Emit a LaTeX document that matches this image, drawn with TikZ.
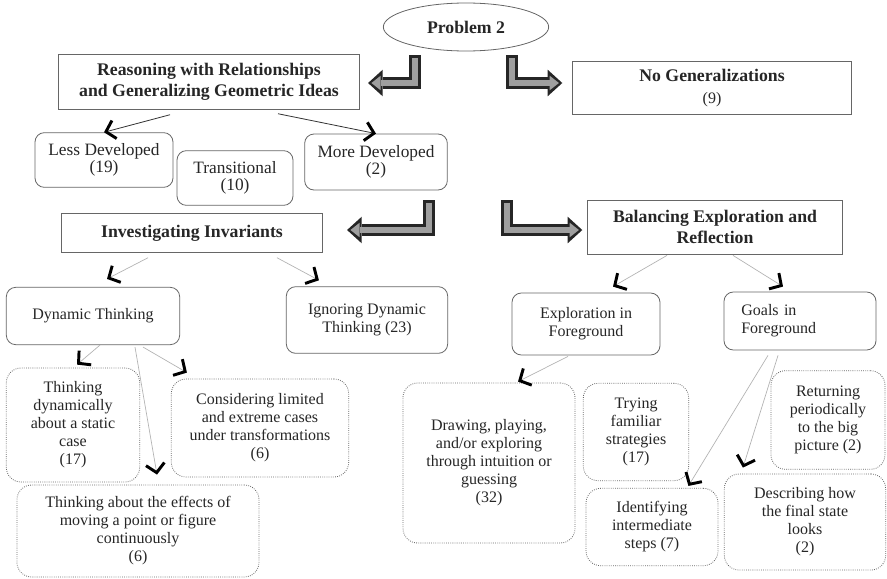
\documentclass[tikz,border=0pt]{standalone}
\usepackage{fontspec}
\setmainfont{Liberation Serif}
\usetikzlibrary{positioning}
\usetikzlibrary{arrows.meta}
\usetikzlibrary{shapes.geometric}
\usetikzlibrary{calc}

\begin{document}
\begin{tikzpicture}
  [x=0.75pt,y=-0.75pt,
   every node/.style={draw=gray!80!black,line width=0.6pt,align=center,text=black!85,
     inner sep=1pt,font=\fontsize{12}{13.5}\selectfont},
   headbox/.style={rectangle,font=\fontsize{13.3}{16}\selectfont\bfseries},
   cat/.style={rounded corners=7pt},
   sub/.style={rounded corners=11pt,densely dotted},
   connect/.style={draw=black!80,semithick,
     -{Straight Barb[length=6.5pt,width=14pt,line width=2.2pt,color=black]}},
   faint/.style={connect,draw=gray!60,line width=0.5pt},
   hollow/.style={draw=black!85,line width=9pt,line join=miter,
     -{Triangle[length=11pt,width=20pt,line width=0pt]},
     postaction={draw=gray!75,line width=4.5pt,shorten <=2pt,shorten >=2.5pt,
       -{Triangle[length=7pt,width=11pt,line width=0pt]}}}]
  \path[use as bounding box,fill=white] (0,0) rectangle (887,578);

  % top
  \node (prob) [ellipse,font=\fontsize{13.3}{16}\selectfont\bfseries,
    minimum width=124pt,minimum height=36pt] at (466,27) {Problem 2};
  \node (reason) [headbox,minimum width=226pt,minimum height=41pt] at (209,82)
    {Reasoning with Relationships\\and Generalizing Geometric Ideas};
  \node (nogen) [headbox,minimum width=209pt,minimum height=40pt] at (712,88)
    {No Generalizations\\{\mdseries\fontsize{12}{13.5}\selectfont (9)}};

  \node (less) [cat,font=\fontsize{13}{13}\selectfont,minimum width=103.5pt,minimum height=41pt]
    at (104,160) {Less Developed\\(19)};
  \node (trans) [cat,font=\fontsize{13}{13}\selectfont,minimum width=87pt,minimum height=41pt]
    at (235,178) {Transitional\\(10)};
  \node (more) [cat,font=\fontsize{13}{13}\selectfont,minimum width=107pt,minimum height=42pt]
    at (376,162) {More Developed\\(2)};

  % middle
  \node (inv) [headbox,minimum width=196pt,minimum height=29pt] at (192,233) {Investigating Invariants};
  \node (bal) [headbox,minimum width=191pt,minimum height=40.5pt] at (715,227)
    {Balancing Exploration and\\Reflection};

  \node (dyn) [cat,minimum width=130pt,minimum height=43pt] at (93,316) {Dynamic Thinking};
  \node (ign) [cat,minimum width=121pt,minimum height=50pt] at (367,320) {Ignoring Dynamic\\Thinking (23)};
  \node (expl) [cat,minimum width=111pt,minimum height=46.5pt] at (586,324) {Exploration in\\Foreground};
  \node (goals) [cat,align=left,text width=88pt,inner xsep=13pt,minimum height=43.5pt] at (800,321)
    {Goals in\\Foreground};

  % bottom
  \node (static) [sub,minimum width=100pt,minimum height=85.5pt] at (73,425)
    {Thinking\\dynamically\\about a static\\case\\(17)};
  \node (limit) [sub,minimum width=133pt,minimum height=73.5pt] at (260,428)
    {Considering limited\\and extreme cases\\under transformations\\(6)};
  \node (effects) [sub,minimum width=181.5pt,minimum height=69pt] at (138,531)
    {Thinking about the effects of\\moving a point or figure\\continuously\\(6)};
  \node (guess) [sub,minimum width=129pt,minimum height=120pt] at (489,463)
    {Drawing, playing,\\and/or exploring\\through intuition or\\guessing\\(32)};
  \node (trying) [sub,minimum width=79pt,minimum height=73pt] at (636,432)
    {Trying\\familiar\\strategies\\(17)};
  \node (ident) [sub,minimum width=99pt,minimum height=58pt] at (652,527)
    {Identifying\\intermediate\\steps (7)};
  \node (ret) [sub,minimum width=85.5pt,minimum height=74pt] at (828,420)
    {Returning\\periodically\\to the big\\picture (2)};
  \node (desc) [sub,minimum width=121pt,minimum height=72pt] at (805,522)
    {Describing how\\the final state\\looks\\(2)};

  % big arrows
  \coordinate (h1) at (429,200);
  \coordinate (h2) at (507,200);
  \draw[hollow] ($(prob.south)+(-51,4)$) |- ($(reason.east)+(8,1)$);
  \draw[hollow] ($(prob.south)+(46,4)$) |- ($(nogen.west)+(-10,-5)$);
  \draw[hollow] (h1) |- ($(inv.east)+(24,-3)$);
  \draw[hollow] (h2) |- ($(bal.west)+(-5,3)$);

  % connectors
  \draw[connect] ($(reason.south)+(-39,5)$) -- (less.north);
  \draw[connect] ($(reason.south)+(69,4)$) -- (more.north);
  \draw[faint] ($(inv.south)+(-44,5)$) -- ($(dyn.north)+(14,-8)$);
  \draw[faint] ($(inv.south)+(85,5)$) -- ($(ign.north west)+(33,-6)$);
  \draw[faint] ($(bal.south)+(-48,1)$) -- ($(expl.north)+(27,-6)$);
  \draw[faint] ($(bal.south)+(18,1)$) -- ($(goals.north)+(-17,-5)$);
  \draw[faint] ($(dyn.south)+(7,0)$) -- ($(static.north)+(4,-3)$);
  \draw[faint] ($(dyn.south)+(50,2)$) -- ($(limit.north west)+(16,-6)$);
  \draw[faint] ($(dyn.south)+(42,2)$) -- ($(effects.north)+(19,-10)$);
  \draw[faint] ($(expl.south)+(-18,1)$) -- ($(guess.north)+(29,-1)$);
  \draw[faint] ($(goals.south)+(-32,5)$) -- ($(ident.north east)+(-30,-2)$);
  \draw[faint] ($(goals.south)+(-22,5)$) -- ($(desc.north west)+(19,-6)$);
\end{tikzpicture}
\end{document}
